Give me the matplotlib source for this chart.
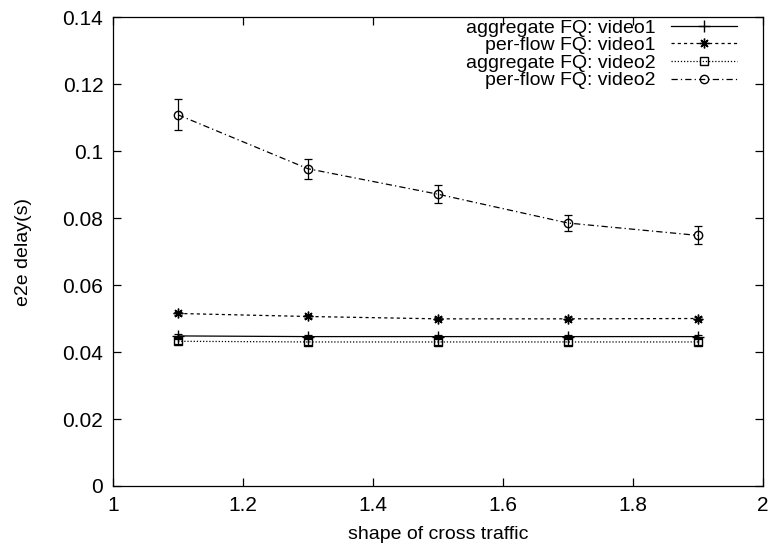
import matplotlib
matplotlib.use("Agg")
import matplotlib.pyplot as plt
from matplotlib.lines import Line2D
from matplotlib.ticker import FuncFormatter, MultipleLocator

plt.rcParams['font.family'] = ['Liberation Sans', 'DejaVu Sans']
plt.rcParams['font.size'] = 14

# shape parameter of the cross traffic
shape = [1.1, 1.3, 1.5, 1.7, 1.9]

# mean end-to-end delay (s) and half-width of the error bars
agg_video1 = [0.0448, 0.0446, 0.0446, 0.0446, 0.0446]
agg_video1_err = [0.0006, 0.0005, 0.0005, 0.0005, 0.0005]
perflow_video1 = [0.0515, 0.0506, 0.0499, 0.0499, 0.0500]
perflow_video1_err = [0.0004, 0.0004, 0.0004, 0.0004, 0.0004]
agg_video2 = [0.0432, 0.0430, 0.0430, 0.0430, 0.0430]
agg_video2_err = [0.0008, 0.0008, 0.0008, 0.0008, 0.0008]
perflow_video2 = [0.1108, 0.0947, 0.0871, 0.0785, 0.0748]
perflow_video2_err = [0.0046, 0.0030, 0.0027, 0.0023, 0.0027]

labels = ['aggregate FQ: video1', 'per-flow FQ: video1',
          'aggregate FQ: video2', 'per-flow FQ: video2']

fig = plt.figure(figsize=(7.7, 5.56), dpi=100)
ax = fig.add_axes([0.1468, 0.1259, 0.8441, 0.8435])

styles = [
    dict(ls='-', marker='+', ms=8, mfc='black'),
    dict(ls=(0, (2.5, 2.5)), marker=(8, 2, 0), ms=7, mfc='black'),
    dict(ls=(0, (1, 1.5)), marker='s', ms=6, mfc='none'),
    dict(ls=(0, (5, 2.5, 1, 2.5)), marker='o', ms=6, mfc='none'),
]
series = [(agg_video1, agg_video1_err), (perflow_video1, perflow_video1_err),
          (agg_video2, agg_video2_err), (perflow_video2, perflow_video2_err)]

handles = []
for (y, err), st, lab in zip(series, styles, labels):
    ax.errorbar(shape, y, yerr=err, color='black', lw=0.9, elinewidth=0.9,
                capsize=3, capthick=0.9, mec='black', **st)
    handles.append(Line2D([], [], color='black', lw=0.9, mec='black', label=lab, **st))

ax.set_xlim(1, 2)
ax.set_ylim(0, 0.14)
ax.xaxis.set_major_locator(MultipleLocator(0.2))
ax.yaxis.set_major_locator(MultipleLocator(0.02))
fmt = FuncFormatter(lambda v, pos: '%g' % round(v, 6))
ax.xaxis.set_major_formatter(fmt)
ax.yaxis.set_major_formatter(fmt)
ax.tick_params(direction='in', top=True, right=True, length=6, width=0.9, labelsize=15, pad=7)
for sp in ax.spines.values():
    sp.set_linewidth(0.9)

ax.set_xlabel('shape of cross traffic', fontsize=14, labelpad=8)
ax.set_ylabel('e2e delay(s)', fontsize=14, labelpad=22)

ax.legend(handles=handles, loc='upper right', bbox_to_anchor=(0.963, 1.0),
          frameon=False, markerfirst=False, fontsize=14, handlelength=3.4,
          labelspacing=0.0, borderpad=0.1, borderaxespad=0.0, handletextpad=0.8)

fig.savefig('out.png', dpi=100)
